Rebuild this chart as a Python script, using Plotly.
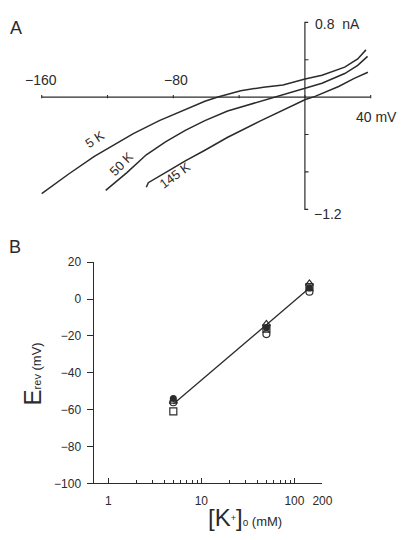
import plotly.graph_objects as go

W, H = 410, 540

# ---------------- Panel A data (mV, nA) ----------------
v_5k = [-160, -143.8, -128.0, -116.1, -104.3, -88.5, -72.7, -60.8, -52.9, -39.0, -25.2, -13.3, 0.1, 10.4, 24.2, 32.1, 37.1]
i_5k = [-1.033, -0.825, -0.633, -0.513, -0.391, -0.252, -0.130, -0.044, 0.002, 0.068, 0.106, 0.130, 0.193, 0.234, 0.321, 0.408, 0.505]

v_50k = [-121.1, -108.2, -96.4, -84.5, -72.7, -60.8, -47.0, -27.2, -17.3, 0.1, 10.4, 24.2, 32.1, 38.1]
i_50k = [-0.998, -0.807, -0.617, -0.477, -0.356, -0.252, -0.148, -0.044, 0.002, 0.096, 0.148, 0.252, 0.339, 0.435]

v_145k = [-96.4, -95.2, -82.7, -72.7, -60.8, -47.2, -27.0, -7.4, 0.3, 6.2, 20.5, 30.0, 38.3]
i_145k = [-0.964, -0.915, -0.786, -0.682, -0.568, -0.432, -0.255, -0.094, -0.026, 0.008, 0.113, 0.200, 0.266]

a_xticks = [-160, -120, -80, -40, 0, 40]
a_yticks = [0.4, -0.4, -0.8]

# ---------------- Panel B data ----------------
k_out = [5, 50, 145]
erev_circle_filled = [-54, -15.5, 6]
erev_triangle_open = [-55.5, -13.5, 8.5]
erev_square = [-61, -16, 6.5]
erev_circle_open = [-56, -19, 4]
fit_k = [5, 145]
fit_erev = [-57, 6]

b_yticks = [20, 0, -20, -40, -60, -80, -100]
b_xticks = [1, 10, 100, 200]
b_xminor = [2, 3, 4, 5, 6, 7, 8, 9, 20, 30, 40, 50, 60, 70, 80, 90]

INK = "#2b2b2b"
FONT = "Liberation Sans"


def px(x, y):
    return x / W, 1 - y / H


fig = go.Figure()

# Panel A curves
for v, i in [(v_5k, i_5k), (v_50k, i_50k), (v_145k, i_145k)]:
    fig.add_trace(go.Scatter(x=v, y=i, mode="lines", line=dict(color=INK, width=1.5),
                             xaxis="x2", yaxis="y2", showlegend=False, hoverinfo="skip"))

# Panel A axes (crossing at origin)
fig.add_trace(go.Scatter(x=[a_xticks[0], a_xticks[-1]], y=[0, 0], mode="lines", line=dict(color=INK, width=1.2),
                         xaxis="x2", yaxis="y2", showlegend=False, hoverinfo="skip"))
fig.add_trace(go.Scatter(x=[2, 0, 0, 2], y=[0.8, 0.8, -1.2, -1.2], mode="lines", line=dict(color=INK, width=1.2),
                         xaxis="x2", yaxis="y2", showlegend=False, hoverinfo="skip"))
shapes = []
for t in a_xticks:
    shapes.append(dict(type="line", xref="x2", yref="y2", x0=t, x1=t, y0=-0.012, y1=0.022,
                       line=dict(color=INK, width=1.1)))
for t in a_yticks:
    shapes.append(dict(type="line", xref="x2", yref="y2", x0=0, x1=2.2, y0=t, y1=t,
                       line=dict(color=INK, width=1.1)))

# Panel B data
fig.add_trace(go.Scatter(x=fit_k, y=fit_erev, mode="lines", line=dict(color=INK, width=1.3),
                         showlegend=False, hoverinfo="skip"))
fig.add_trace(go.Scatter(x=k_out, y=erev_square, mode="markers",
                         marker=dict(symbol="square-open", size=7, color=INK, line=dict(width=1.2)), showlegend=False))
fig.add_trace(go.Scatter(x=k_out, y=erev_circle_open, mode="markers",
                         marker=dict(symbol="circle-open", size=7, color=INK, line=dict(width=1.2)), showlegend=False))
fig.add_trace(go.Scatter(x=k_out, y=erev_triangle_open, mode="markers",
                         marker=dict(symbol="triangle-up-open", size=7, color=INK, line=dict(width=1.2)), showlegend=False))
fig.add_trace(go.Scatter(x=k_out, y=erev_circle_filled, mode="markers",
                         marker=dict(symbol="circle", size=7, color=INK), showlegend=False))

annotations = []


def txt(x, y, s, size=14, angle=0, xanchor="center"):
    ax, ay = px(x, y)
    annotations.append(dict(x=ax, y=ay, xref="paper", yref="paper", text=s, showarrow=False, textangle=angle,
                            xanchor=xanchor, yanchor="middle", font=dict(family=FONT, size=size, color=INK)))


# Panel A labels
txt(16, 22, "A", size=18)
txt(42, 75, "\u2212160", size=14)
txt(180, 75, "\u221280", size=14)
txt(386, 113, "40 mV", size=14)
txt(346, 17, "0.8  nA", size=14)
txt(336, 212, "\u22121.2", size=14)
txt(97, 136, "5 K", size=13, angle=-33)
txt(125, 161, "50 K", size=13, angle=-45)
txt(179, 173, "145 K", size=13, angle=-36)

# Panel B labels
txt(15, 246, "B", size=18)
txt(33, 377, "<span style='font-size:24px'>E</span><span style='font-size:11px'>rev</span> (mV)",
    size=13, angle=-90)
txt(251, 524, "<span style='font-size:24px'>[K</span><sup>+</sup><span style='font-size:24px'>]</span>"
    "<span style='font-size:10px'>o</span> (mM)", size=13)

# Axis domains in pixels
ax_x0, ax_x1 = 34.3, 388.4
ay_top, ay_bot = 10.9, 212.5
bx0, bx1 = 96, 330.5
by_top, by_bot = 262, 489

fig.update_layout(
    width=W, height=H, margin=dict(l=0, r=0, t=0, b=0),
    paper_bgcolor="white", plot_bgcolor="white",
    font=dict(family=FONT, color=INK),
    shapes=shapes, annotations=annotations,
    xaxis2=dict(domain=[ax_x0 / W, ax_x1 / W], range=[-165, 45], visible=False, anchor="y2"),
    yaxis2=dict(domain=[1 - ay_bot / H, 1 - ay_top / H], range=[-1.25, 0.85], visible=False, anchor="x2"),
    xaxis=dict(domain=[bx0 / W, bx1 / W], type="log", range=[-0.157, 2.301], anchor="y",
               showline=True, linecolor=INK, linewidth=1.3, showgrid=False, zeroline=False,
               ticks="inside", ticklen=5, tickcolor=INK, tickwidth=1.1,
               tickvals=b_xticks, ticktext=[str(t) for t in b_xticks],
               tickfont=dict(size=12, color=INK), ticklabelstandoff=6,
               minor=dict(tickvals=b_xminor, ticks="inside", ticklen=3, tickcolor=INK, tickwidth=1, showgrid=False)),
    yaxis=dict(domain=[1 - by_bot / H, 1 - by_top / H], range=[-100, 20], anchor="x",
               showline=True, linecolor=INK, linewidth=1.3, showgrid=False, zeroline=False,
               ticks="outside", ticklen=6, tickcolor=INK, tickwidth=1.1,
               tickvals=b_yticks, tickfont=dict(size=12, color=INK), ticklabelstandoff=3),
)

fig.write_html("out.html")
